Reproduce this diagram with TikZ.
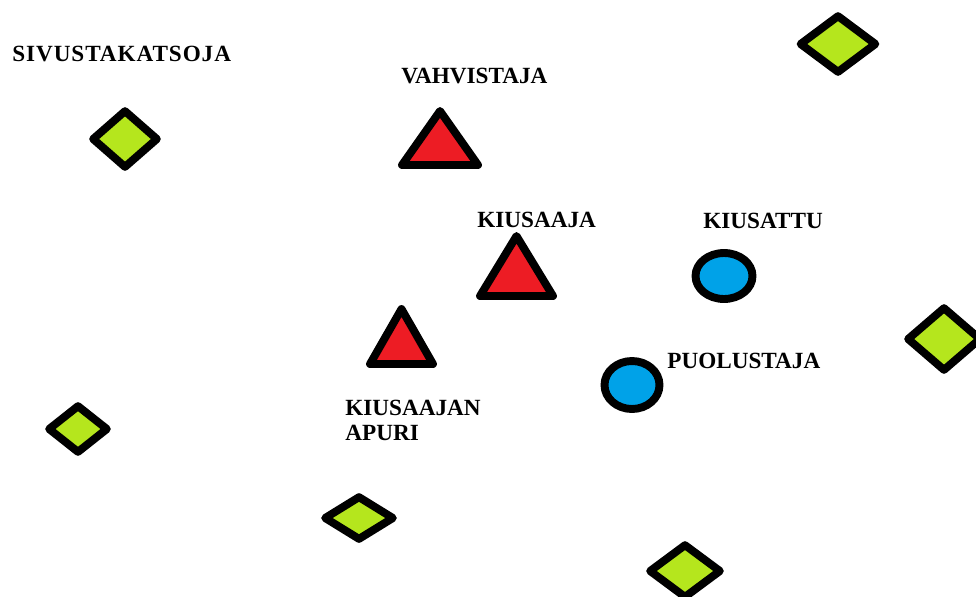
\documentclass[tikz,border=0pt]{standalone}
\usepackage{fontspec}
\setmainfont{Liberation Serif}
\usepackage{xcolor}
\usepackage{tikz}
\usetikzlibrary{shapes.geometric}
\definecolor{paintgreen}{HTML}{B5E61D}
\definecolor{paintred}{HTML}{ED1C24}
\definecolor{paintblue}{HTML}{00A2E8}
\tikzset{
  shp/.style={draw=black, line width=4.5pt, line join=round, inner sep=0pt},
  bystander/.style={shp, diamond, fill=paintgreen},
  victim/.style={shp, ellipse, fill=paintblue},
  bully/.style={shp, fill=paintred},
  role/.style={font=\fontsize{13.2}{14.2}\selectfont\bfseries, inner sep=0pt,
               anchor=base west, align=left}
}
\begin{document}
\begin{tikzpicture}[x=0.02cm, y=-0.02cm]
  \fill[white] (0,0) rectangle (976,596);
  \useasboundingbox (0,0) rectangle (976,596);
  \clip (0,0) rectangle (976,596);
  % bystanders
  \node[bystander, minimum width=1.34cm, minimum height=1.18cm] (katsoja) at (125,139) {};
  \node[bystander, minimum width=1.56cm, minimum height=1.18cm] (ylaoikea) at (838,44) {};
  \node[bystander, minimum width=1.50cm, minimum height=1.30cm] (oikea) at (944,339) {};
  \node[bystander, minimum width=1.22cm, minimum height=0.98cm] (vasen) at (78,429) {};
  \node[bystander, minimum width=1.42cm, minimum height=0.90cm] (alakeski) at (359,518) {};
  \node[bystander, minimum width=1.46cm, minimum height=1.10cm] (alaoikea) at (685,571) {};
  % bullies
  \draw[bully] (402,165) -- (478,165) -- (440,111) -- cycle;
  \draw[bully] (480,296) -- (553,296) -- (516.5,236) -- cycle;
  \draw[bully] (370,364) -- (433,364) -- (401.5,309) -- cycle;
  % victim and defender
  \node[victim, minimum width=1.14cm, minimum height=0.92cm] (kiusattu) at (724,276) {};
  \node[victim, minimum width=1.10cm, minimum height=0.96cm] (puolustaja) at (632,385) {};
  % labels
  \node[role] (l-katsoja) at (12,61) {\addfontfeature{LetterSpace=4}SIVUSTAKATSOJA};
  \node[role] (l-vahvistaja) at (401,83) {VAHVISTAJA};
  \node[role] (l-kiusaaja) at (477,227) {KIUSAAJA};
  \node[role] (l-apuri) at (345,440) {KIUSAAJAN\\APURI};
  \node[role] (l-kiusattu) at (703,228) {KIUSATTU};
  \node[role] (l-puolustaja) at (667,368) {PUOLUSTAJA};
\end{tikzpicture}
\end{document}
